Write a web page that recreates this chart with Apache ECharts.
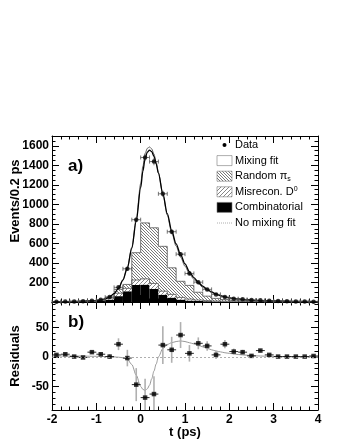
<!DOCTYPE html>
<html lang="en">
<head>
<meta charset="UTF-8">
<title>Mixing fit and residuals</title>
<script src="https://cdn.jsdelivr.net/npm/echarts@6/dist/echarts.min.js"></script>
<style>
    html, body { margin: 0; padding: 0; background: #fff; }
    #main { width: 345px; height: 446px; }
</style>
</head>
<body>
<div id="main"></div>
<script>
    // bins of 0.2 ps, centres
    var binCenters = [-1.9, -1.7, -1.5, -1.3, -1.1, -0.9, -0.7, -0.5, -0.3, -0.1,
        0.1, 0.3, 0.5, 0.7, 0.9, 1.1, 1.3, 1.5, 1.7, 1.9,
        2.1, 2.3, 2.5, 2.7, 2.9, 3.1, 3.3, 3.5, 3.7, 3.9];

    // panel a) data points (events / 0.2 ps) and their errors
    var dataEvents = [3, 4, 5, 7, 12, 22, 50, 150, 340, 843,
        1480, 1438, 1108, 720, 490, 292, 203, 129, 78, 50,
        34, 27, 20, 17, 12, 9, 7, 5, 5, 3];
    var dataErr = [2, 2, 2, 3, 3, 5, 7, 12, 18, 29,
        38, 38, 33, 27, 22, 17, 14, 11, 9, 7,
        6, 5, 4, 4, 3, 3, 3, 2, 2, 2];

    // stacked background components per bin
    var combinatorial = [2, 2, 3, 3, 4, 10, 25, 60, 110, 175,
        178, 135, 75, 45, 25, 15, 10, 8, 6, 5,
        4, 4, 3, 3, 3, 3, 2, 2, 2, 2];
    var misrecon = [1, 1, 1, 2, 3, 5, 15, 30, 30, 50,
        59, 55, 36, 33, 22, 15, 10, 6, 4, 3,
        3, 2, 2, 2, 1, 1, 1, 1, 1, 1];
    var randomPis = [1, 1, 1, 1, 2, 3, 10, 40, 40, 280,
        573, 570, 459, 272, 165, 140, 80, 46, 27, 17,
        11, 8, 6, 4, 3, 2, 2, 1, 1, 0];

    // fit curves
    var fitT = [-2.0, -1.9, -1.8, -1.7, -1.6, -1.5, -1.4, -1.3, -1.2, -1.1,
        -1.0, -0.9, -0.8, -0.7, -0.6, -0.5, -0.4, -0.3, -0.2, -0.1,
        0.0, 0.05, 0.1, 0.15, 0.2, 0.25, 0.3, 0.35, 0.4, 0.5, 0.6, 0.7, 0.8, 0.9,
        1.0, 1.1, 1.2, 1.3, 1.4, 1.5, 1.6, 1.7, 1.8, 1.9,
        2.0, 2.2, 2.4, 2.6, 2.8, 3.0, 3.2, 3.4, 3.6, 3.8, 4.0];
    var mixFit = [3, 3, 4, 4, 5, 6, 7, 8, 10, 12,
        15, 21, 32, 52, 85, 140, 225, 350, 550, 830,
        1170, 1340, 1470, 1535, 1555, 1540, 1490, 1415, 1320, 1110, 905, 730, 595, 485,
        390, 310, 250, 202, 162, 130, 103, 82, 66, 53,
        43, 31, 23, 17, 13, 10, 8, 7, 6, 5, 4];
    var noMixFit = [3, 3, 4, 4, 5, 6, 7, 8, 10, 12,
        15, 21, 32, 52, 86, 142, 228, 356, 562, 852,
        1210, 1390, 1520, 1574, 1588, 1568, 1515, 1430, 1325, 1105, 890, 710, 572, 460,
        366, 290, 232, 188, 150, 121, 96, 77, 62, 50,
        41, 30, 22, 17, 13, 10, 8, 7, 6, 5, 4];

    // panel b) residuals
    var residuals = [3.4, 4.5, 0.5, -1, 8, 4.5, 0.5, 21.5, -2, -47,
        -69, -63, 20, 12, 37, 6, 23, 18.6, 3.4, 21.5,
        9, 8, 1.7, 10.7, 3.4, 0.5, 0.5, 0.5, 0.5, 1.5];
    var residErr = [2, 2, 2, 2, 3, 3, 4, 10, 14, 28,
        32, 30, 32, 22, 22, 14, 10, 8, 7, 7,
        5, 4, 3, 3, 2, 2, 2, 1, 1, 1];
    var residFit = [1.5, 1.5, 1.5, 1.5, 1.5, 1.5, 1.4, 1.3, 1.2, 1.0,
        1.0, 0.8, 0.6, 0.5, 0, -0.5, -1.5, -4, -13, -31,
        -50, -55, -57, -54, -48, -37, -24, -12, 0, 14, 21, 24, 26, 27,
        26, 24, 22, 19.5, 17, 14.5, 12, 10, 8.5, 7,
        6, 4, 2.8, 1.8, 1.2, 0.8, 0.5, 0.4, 0.3, 0.2, 0];

    // axis ticks
    var xTicks = [-2, -1, 0, 1, 2, 3, 4];
    var eventTicks = [200, 400, 600, 800, 1000, 1200, 1400, 1600];
    var residTicks = [-50, 0, 50];

    var legendNames = ['Data', 'Mixing fit', 'Random \u03c0{sub|s}', 'Misrecon. D{sup|0}', 'Combinatorial', 'No mixing fit'];

    var FONT = '"Liberation Sans", Arial, Helvetica, sans-serif';

    function hatch(dir, step, color) {
        var c = document.createElement('canvas');
        c.width = step; c.height = step;
        var g = c.getContext('2d');
        g.fillStyle = '#fff';
        g.fillRect(0, 0, step, step);
        g.strokeStyle = color;
        g.lineWidth = 0.8;
        g.beginPath();
        if (dir > 0) {        // "/"
            g.moveTo(-1, step + 1); g.lineTo(step + 1, -1);
            g.moveTo(-1, 1); g.lineTo(1, -1);
            g.moveTo(step - 1, step + 1); g.lineTo(step + 1, step - 1);
        } else {              // "\"
            g.moveTo(-1, -1); g.lineTo(step + 1, step + 1);
            g.moveTo(step - 1, -1); g.lineTo(step + 1, 1);
            g.moveTo(-1, step - 1); g.lineTo(1, step + 1);
        }
        g.stroke();
        return { image: c, repeat: 'repeat' };
    }
    var hatchRandom = hatch(-1, 3, '#555');
    var hatchMis = hatch(1, 4, '#666');

    function pairs(xs, ys) {
        return xs.map(function (x, i) { return [x, ys[i]]; });
    }

    function histItem(params, api) {
        var i = params.dataIndex;
        var x0 = binCenters[i] - 0.1, x1 = binCenters[i] + 0.1;
        var lv = [0, combinatorial[i], combinatorial[i] + misrecon[i],
            combinatorial[i] + misrecon[i] + randomPis[i]];
        var prev = [0, 0, 0, 0];
        if (i > 0) {
            prev = [0, combinatorial[i - 1], combinatorial[i - 1] + misrecon[i - 1],
                combinatorial[i - 1] + misrecon[i - 1] + randomPis[i - 1]];
        }
        var fills = ['#000', hatchMis, hatchRandom];
        var kids = [];
        for (var k = 0; k < 3; k++) {
            var a = api.coord([x0, lv[k + 1]]);
            var b = api.coord([x1, lv[k]]);
            kids.push({ type: 'rect', shape: { x: a[0], y: a[1], width: b[0] - a[0], height: b[1] - a[1] }, style: { fill: fills[k] } });
        }
        for (var k = 2; k <= 3; k++) {
            var l = api.coord([x0, lv[k]]), r = api.coord([x1, lv[k]]), p = api.coord([x0, prev[k]]);
            kids.push({ type: 'polyline', shape: { points: [p, l, r] }, style: { stroke: '#555', lineWidth: 0.8, fill: null } });
        }
        return { type: 'group', children: kids };
    }

    function dataBars(params, api) {
        var t = api.value(0), v = api.value(1), e = api.value(2);
        var l = api.coord([t - 0.1, v]), r = api.coord([t + 0.1, v]);
        var lo = api.coord([t, v - e]), hi = api.coord([t, v + e]);
        var st = { stroke: '#555', lineWidth: 0.8 };
        return {
            type: 'group', children: [
                { type: 'line', shape: { x1: l[0], y1: l[1], x2: r[0], y2: r[1] }, style: st },
                { type: 'line', shape: { x1: l[0], y1: l[1] - 2, x2: l[0], y2: l[1] + 2 }, style: st },
                { type: 'line', shape: { x1: r[0], y1: r[1] - 2, x2: r[0], y2: r[1] + 2 }, style: st },
                { type: 'line', shape: { x1: lo[0], y1: lo[1], x2: hi[0], y2: hi[1] }, style: st }
            ]
        };
    }

    function residBars(params, api) {
        var t = api.value(0), v = api.value(1), e = api.value(2);
        var l = api.coord([t - 0.1, v]), r = api.coord([t + 0.1, v]);
        var lo = api.coord([t, v - e]), hi = api.coord([t, v + e]);
        return {
            type: 'group', children: [
                { type: 'line', shape: { x1: lo[0], y1: lo[1], x2: hi[0], y2: hi[1] }, style: { stroke: '#b0b0b0', lineWidth: 1.6 } },
                { type: 'line', shape: { x1: l[0], y1: l[1], x2: r[0], y2: r[1] }, style: { stroke: '#111', lineWidth: 0.9 } }
            ]
        };
    }

    var lineStyle = { color: '#000', width: 1 };
    function plain(v) { return String(v); }

    function xAx(grid, pos, labels) {
        return {
            type: 'value', gridIndex: grid, position: pos, min: -2, max: 4, interval: 1,
            axisLine: { onZero: false, lineStyle: lineStyle },
            axisTick: { inside: true, length: 7, lineStyle: lineStyle },
            minorTick: { show: true, splitNumber: 5, length: 3.5, lineStyle: lineStyle },
            splitLine: { show: false },
            axisLabel: labels ? {
                show: true, margin: 4, color: '#000', fontFamily: FONT, fontWeight: 'bold', fontSize: 12,
                customValues: xTicks, formatter: plain
            } : { show: false }
        };
    }

    function yAx(grid, pos, min, max, major, minorStep, labels) {
        return [{
            type: 'value', gridIndex: grid, position: pos, min: min, max: max,
            axisLine: { onZero: false, lineStyle: lineStyle },
            axisTick: { inside: true, length: 7, lineStyle: lineStyle, customValues: major },
            splitLine: { show: false },
            axisLabel: labels ? {
                show: true, margin: 3, color: '#000', fontFamily: FONT, fontWeight: 'bold', fontSize: 12,
                customValues: labels, formatter: plain
            } : { show: false }
        }, {
            type: 'value', gridIndex: grid, position: pos, min: min, max: max, interval: minorStep,
            axisLine: { show: false, onZero: false },
            axisTick: { inside: true, length: 3.5, lineStyle: lineStyle },
            splitLine: { show: false },
            axisLabel: { show: false }
        }];
    }

    var legendGraphics = [];
    legendNames.forEach(function (name, i) {
        var y = 145 + i * 15.6;
        var icon;
        if (i === 0) icon = { type: 'circle', shape: { cx: 224.5, cy: y, r: 2 }, style: { fill: '#000' } };
        else if (i === 5) icon = { type: 'line', shape: { x1: 217, y1: y, x2: 232, y2: y }, style: { stroke: '#999', lineWidth: 0.8, lineDash: [1, 1] } };
        else {
            var fill = ['#fff', hatchRandom, hatchMis, '#000'][i - 1];
            icon = { type: 'rect', shape: { x: 217, y: y - 5, width: 15, height: 10 }, style: { fill: fill, stroke: '#777', lineWidth: 0.6 } };
        }
        legendGraphics.push(icon);
        legendGraphics.push({
            type: 'text', x: 235, y: y,
            style: {
                text: name, fill: '#000', fontFamily: FONT, fontSize: 11, verticalAlign: 'middle',
                rich: {
                    sub: { fontSize: 7, verticalAlign: 'bottom', padding: [6, 0, 0, 0], fontFamily: FONT },
                    sup: { fontSize: 7, verticalAlign: 'top', padding: [0, 0, 6, 0], fontFamily: FONT }
                }
            }
        });
    });

    var chart = echarts.init(document.getElementById('main'), null, { renderer: 'canvas' });

    var option = {
        animation: false,
        backgroundColor: '#fff',
        grid: [
            { left: 52, top: 136, width: 266, height: 166 },
            { left: 52, top: 302, width: 266, height: 108 }
        ],
        xAxis: [xAx(0, 'bottom', false), xAx(0, 'top', false), xAx(1, 'bottom', true), xAx(1, 'top', false)],
        yAxis: [].concat(
            yAx(0, 'left', 0, 1700, [0].concat(eventTicks), 50, eventTicks),
            yAx(0, 'right', 0, 1700, [0].concat(eventTicks), 50, null),
            yAx(1, 'left', -90, 93, residTicks, 10, residTicks),
            yAx(1, 'right', -90, 93, residTicks, 10, null)
        ),
        graphic: legendGraphics.concat([
            { type: 'text', x: 68, y: 166, style: { text: 'a)', fontFamily: FONT, fontWeight: 'bold', fontSize: 17, fill: '#000', verticalAlign: 'middle' } },
            { type: 'text', x: 68, y: 322, style: { text: 'b)', fontFamily: FONT, fontWeight: 'bold', fontSize: 17, fill: '#000', verticalAlign: 'middle' } },
            { type: 'text', x: 15, y: 201, rotation: Math.PI / 2, style: { text: 'Events/0.2 ps', fontFamily: FONT, fontWeight: 'bold', fontSize: 13, fill: '#000', align: 'center', verticalAlign: 'middle' } },
            { type: 'text', x: 15, y: 356, rotation: Math.PI / 2, style: { text: 'Residuals', fontFamily: FONT, fontWeight: 'bold', fontSize: 13, fill: '#000', align: 'center', verticalAlign: 'middle' } },
            { type: 'text', x: 185, y: 432, style: { text: 't (ps)', fontFamily: FONT, fontWeight: 'bold', fontSize: 13, fill: '#000', align: 'center', verticalAlign: 'middle' } }
        ]),
        series: [
            {
                name: 'Backgrounds', type: 'custom', xAxisIndex: 0, yAxisIndex: 0, clip: true,
                renderItem: histItem,
                data: binCenters.map(function (t, i) { return [t, combinatorial[i] + misrecon[i] + randomPis[i]]; }),
                encode: { x: 0, y: 1 }, z: 1
            },
            {
                name: 'No mixing fit', type: 'line', xAxisIndex: 0, yAxisIndex: 0,
                data: pairs(fitT, noMixFit), smooth: 0.3, smoothMonotone: 'x', symbol: 'none',
                lineStyle: { color: '#444', width: 0.8 }, z: 3
            },
            {
                name: 'Mixing fit', type: 'line', xAxisIndex: 0, yAxisIndex: 0,
                data: pairs(fitT, mixFit), smooth: 0.3, smoothMonotone: 'x', symbol: 'none',
                lineStyle: { color: '#000', width: 1.3 }, z: 3
            },
            {
                name: 'Data errors', type: 'custom', xAxisIndex: 0, yAxisIndex: 0,
                renderItem: dataBars,
                data: binCenters.map(function (t, i) { return [t, dataEvents[i], dataErr[i]]; }),
                encode: { x: 0, y: 1 }, z: 4
            },
            {
                name: 'Data', type: 'scatter', xAxisIndex: 0, yAxisIndex: 0,
                data: pairs(binCenters, dataEvents), symbolSize: 4.5,
                itemStyle: { color: '#000' }, z: 5
            },
            {
                name: 'Residual fit', type: 'line', xAxisIndex: 2, yAxisIndex: 4,
                data: pairs(fitT, residFit), smooth: 0.3, smoothMonotone: 'x', symbol: 'none',
                lineStyle: { color: '#999', width: 1 },
                markLine: {
                    silent: true, symbol: 'none', label: { show: false },
                    lineStyle: { color: '#999', type: [2, 2], width: 0.8 },
                    data: [{ yAxis: 0 }]
                }, z: 2
            },
            {
                name: 'Residual errors', type: 'custom', xAxisIndex: 2, yAxisIndex: 4, clip: true,
                renderItem: residBars,
                data: binCenters.map(function (t, i) { return [t, residuals[i], residErr[i]]; }),
                encode: { x: 0, y: 1 }, z: 3
            },
            {
                name: 'Residuals', type: 'scatter', xAxisIndex: 2, yAxisIndex: 4,
                data: pairs(binCenters, residuals), symbol: 'rect', symbolSize: 4.5,
                itemStyle: { color: '#000' }, z: 4
            }
        ]
    };
    chart.setOption(option);
</script>
</body>
</html>
